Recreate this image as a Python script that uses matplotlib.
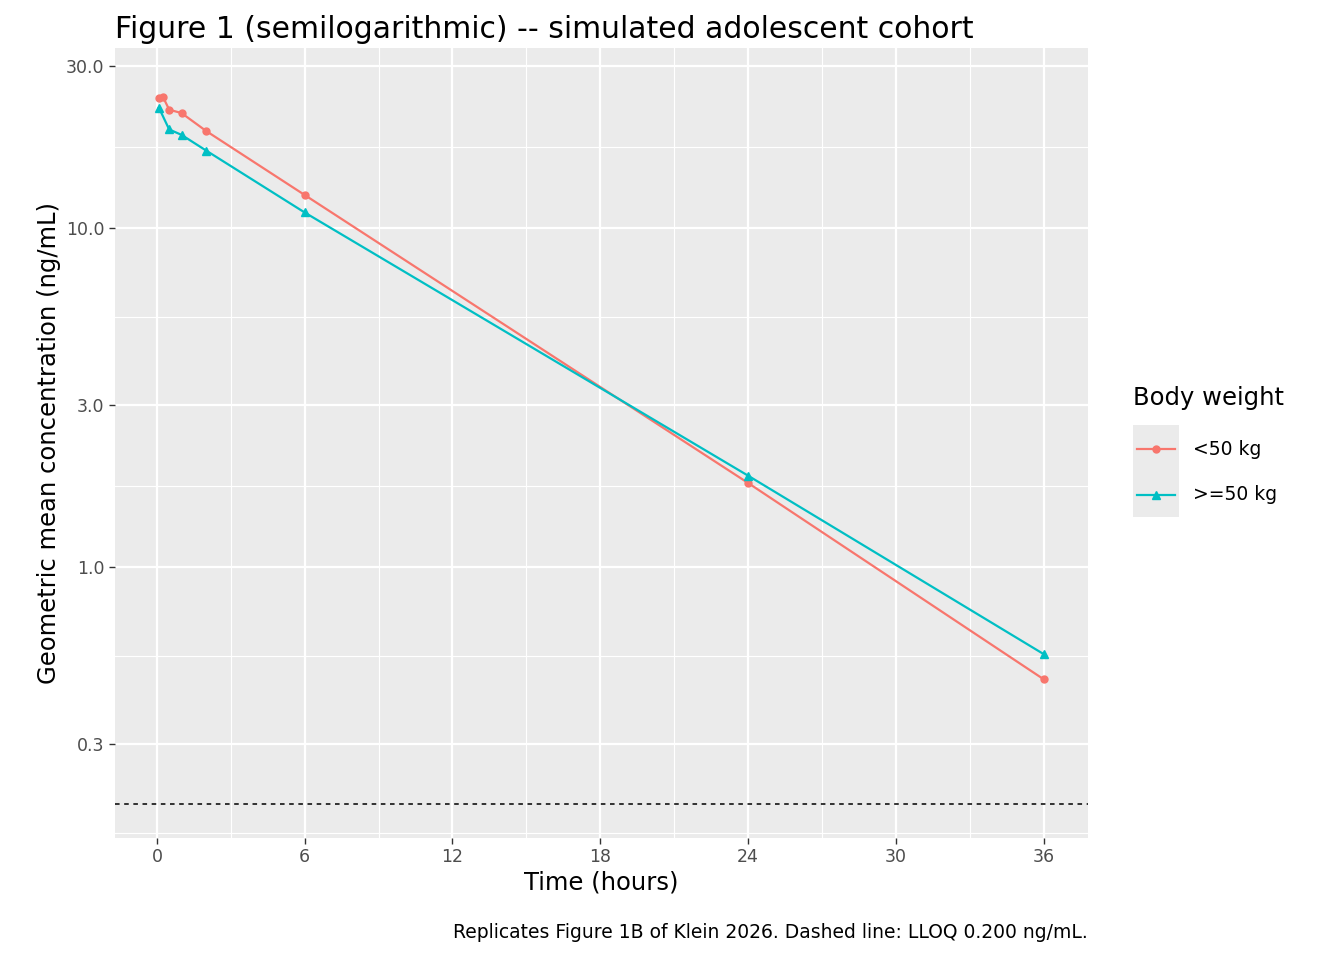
import numpy as np
import matplotlib.pyplot as plt
from matplotlib.patches import Rectangle
from matplotlib.lines import Line2D

# data
t_light = [0.083, 0.25, 0.5, 1, 2, 6, 24, 36]
c_light = [24.2, 24.3, 22.3, 21.8, 19.3, 12.5, 1.77, 0.467]
t_heavy = [0.083, 0.5, 1, 2, 6, 24, 36]
c_heavy = [22.6, 19.5, 18.8, 16.9, 11.1, 1.86, 0.554]
LLOQ = 0.2
y_breaks = [0.3, 1.0, 3.0, 10.0, 30.0]
x_breaks = [0, 6, 12, 18, 24, 30, 36]

RED = "#F8766D"
TEAL = "#00BFC4"

fig = plt.figure(figsize=(13.44, 9.6), dpi=100)
ax = fig.add_axes([115/1344, 1-838/960, (1088-115)/1344, (838-48)/960])
ax.set_facecolor("#EBEBEB")
ax.set_yscale("log")
ax.set_xlim(-1.7, 37.8)
ax.set_ylim(0.159, 33.9)

# grid, ggplot style
lb = np.log10(y_breaks)
y_minor = 10 ** np.concatenate([[lb[0] - (lb[1]-lb[0])/2], (lb[:-1]+lb[1:])/2])
for y in y_minor:
    ax.axhline(y, color="white", lw=0.8, zorder=0)
for y in y_breaks:
    ax.axhline(y, color="white", lw=1.6, zorder=0)
for x in [3, 9, 15, 21, 27, 33]:
    ax.axvline(x, color="white", lw=0.8, zorder=0)
for x in x_breaks:
    ax.axvline(x, color="white", lw=1.6, zorder=0)

ax.axhline(LLOQ, color="black", lw=1.1, ls=(0, (3, 3)), zorder=1)
ax.plot(t_light, c_light, color=RED, marker="o", ms=5, lw=1.6, zorder=3)
ax.plot(t_heavy, c_heavy, color=TEAL, marker="^", ms=6, lw=1.6, zorder=3)

ax.set_yticks(y_breaks)
ax.set_yticklabels([f"{v:.1f}" for v in y_breaks])
ax.yaxis.set_minor_locator(plt.NullLocator())
ax.set_xticks(x_breaks)
for s in ax.spines.values():
    s.set_visible(False)
ax.tick_params(colors="#333333", labelsize=12.5, length=4, width=1, labelcolor="#4D4D4D")
ax.set_xlabel("Time (hours)", fontsize=17.5, labelpad=3)
ax.set_ylabel("Geometric mean concentration (ng/mL)", fontsize=17.5, labelpad=4)

fig.text(115/1344, 1-30/960, "Figure 1 (semilogarithmic) -- simulated adolescent cohort",
         fontsize=21.5, va="center", ha="left")
fig.text(1088/1344, 1-932/960,
         "Replicates Figure 1B of Klein 2026. Dashed line: LLOQ 0.200 ng/mL.",
         fontsize=13.5, ha="right", va="center")

# legend
fig.text(1133/1344, 1-398/960, "Body weight", fontsize=17.5, va="center")
fig.patches.append(Rectangle((1133/1344, 1-517/960), 46/1344, 92/960,
                             transform=fig.transFigure, facecolor="#EBEBEB",
                             edgecolor="none"))
for yk, col, mk, lab, ms in [(449, RED, "o", "<50 kg", 5), (495, TEAL, "^", ">=50 kg", 6)]:
    yf = 1 - yk/960
    fig.lines.append(Line2D([1137/1344, 1175/1344], [yf, yf], color=col, lw=1.6,
                            transform=fig.transFigure))
    fig.lines.append(Line2D([1156/1344], [yf], color=col, marker=mk, ms=ms,
                            transform=fig.transFigure))
    fig.text(1193/1344, yf, lab, fontsize=13.5, va="center")

fig.savefig("out.png", dpi=100)
